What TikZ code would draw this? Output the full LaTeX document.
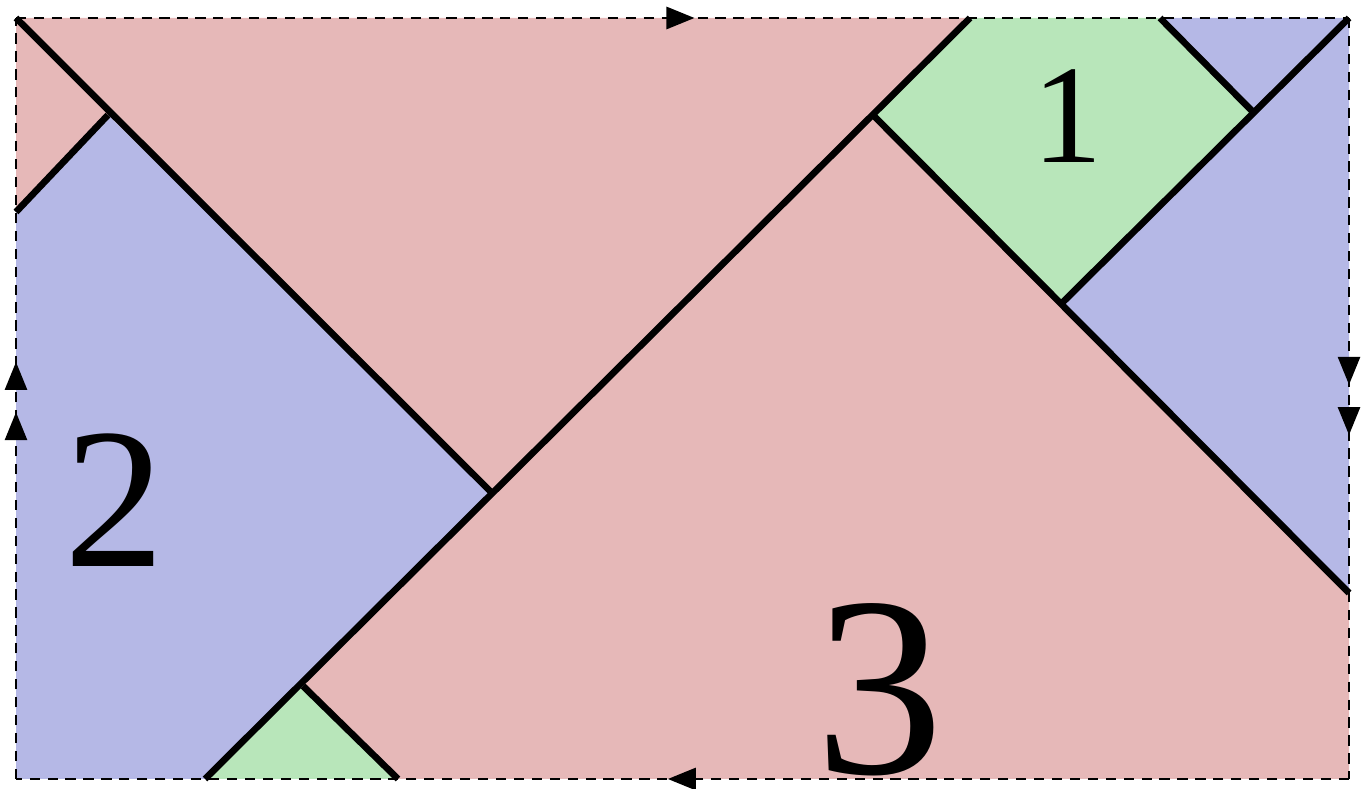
\documentclass[tikz,border=0pt]{standalone}
\usepackage{fontspec}
\setmainfont{Liberation Serif}
\usetikzlibrary{arrows.meta, decorations.markings}

\definecolor{pinkpc}{RGB}{230,184,184}
\definecolor{bluepc}{RGB}{181,184,230}
\definecolor{greenpc}{RGB}{184,230,186}

\begin{document}
\begin{tikzpicture}[
    x=0.01cm, y=-0.01cm, % work in pixels of the reference
    cut/.style={line width=1.9pt, black},
    edge/.style={line width=0.8pt, dash pattern=on 2.9pt off 2.2pt},
    tip/.style={postaction={decorate, decoration={markings, mark=at position #1 with {\arrow{Triangle[length=0.28cm,width=0.22cm]}}}}},
    piece label/.style={inner sep=0pt}
]
    \useasboundingbox (0,0) rectangle (1361,789);

    % Corners of the sheet
    \coordinate (tl) at (16,18);
    \coordinate (tr) at (1349,18);
    \coordinate (br) at (1349,779);
    \coordinate (bl) at (16,779);

    % Points where the cuts meet
    \coordinate (p1) at (970,18);
    \coordinate (p2) at (1160,18);
    \coordinate (p3) at (1253,112);
    \coordinate (p4) at (873,115);
    \coordinate (p5) at (1063,302);
    \coordinate (p6) at (1349,593);
    \coordinate (p7) at (492,493);
    \coordinate (p8) at (303,686);
    \coordinate (p9) at (205,779);
    \coordinate (p10) at (398,779);
    \coordinate (p11) at (108,115);
    \coordinate (p12) at (16,212);

    % Pieces
    \fill[pinkpc] (tl) -- (p1) -- (p7) -- (p11) -- (p12) -- cycle;
    \fill[bluepc] (p12) -- (p11) -- (p7) -- (p9) -- (bl) -- cycle;
    \fill[greenpc] (p9) -- (p8) -- (p10) -- cycle;
    \fill[pinkpc] (p8) -- (p4) -- (p6) -- (br) -- (p10) -- cycle;
    \fill[greenpc] (p1) -- (p2) -- (p3) -- (p5) -- (p4) -- cycle;
    \fill[bluepc] (p2) -- (tr) -- (p6) -- (p5) -- (p3) -- cycle;

    % Cuts
    \draw[cut] (tl) -- (p7);
    \draw[cut] (p9) -- (p1);
    \draw[cut] (p4) -- (p6);
    \draw[cut] (p12) -- (p11);
    \draw[cut] (p8) -- (p10);
    \draw[cut] (p5) -- (tr);
    \draw[cut] (p2) -- (p3);

    % Glued edges
    \draw[edge, tip=0.509] (tl) -- (tr);
    \draw[edge, tip=0.511] (br) -- (bl);
    \draw[edge, tip=0.482, tip=0.548] (bl) -- (tl);
    \draw[edge, tip=0.482, tip=0.548] (tr) -- (br);

    % Labels
    \node[piece label] (one) at (1068,116) {\fontsize{40}{40}\selectfont 1};
    \node[piece label] (two) at (115,500) {\fontsize{57}{57}\selectfont 2};
    \node[piece label] (three) at (880,690) {\fontsize{73}{73}\selectfont 3};
\end{tikzpicture}
\end{document}
